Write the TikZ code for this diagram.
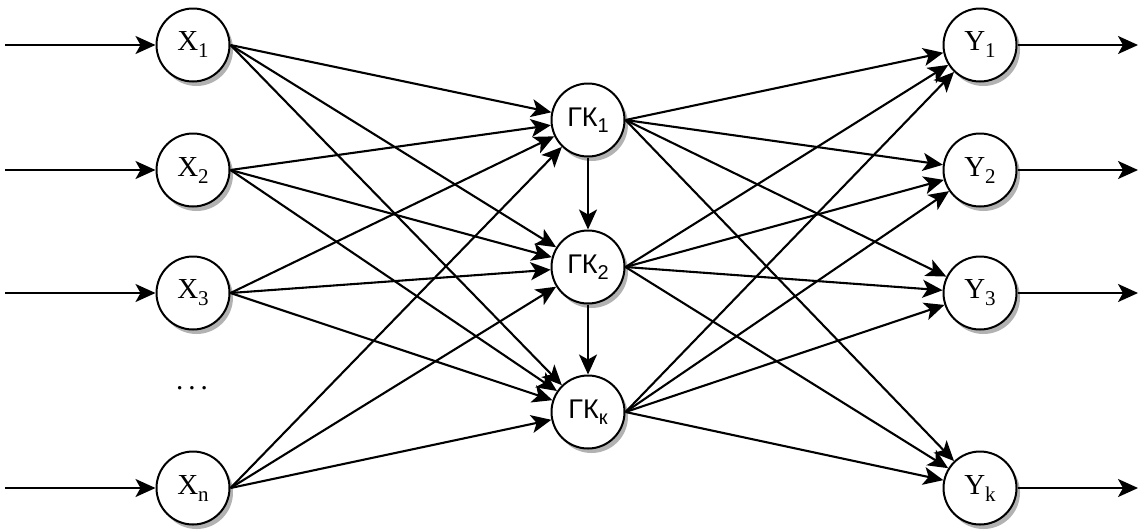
\documentclass[tikz,border=0pt]{standalone}
\usepackage{fontspec}
\setmainfont{Liberation Serif}
\newfontfamily\arialf{Liberation Sans}
\usetikzlibrary{arrows.meta,shadows}
\newcommand\lsub[1]{\raisebox{-7pt}{\fontsize{21}{21}\selectfont #1}}
\newcommand\gsub[1]{\raisebox{-6pt}{\fontsize{20}{20}\selectfont #1}}
\tikzset{
  neuron/.style={circle, draw, line width=2pt, minimum size=73pt, inner sep=0pt, fill=white,
    drop shadow={shadow xshift=3.5pt, shadow yshift=-4.5pt, fill=black, opacity=0.3},
    font=\fontsize{29}{32}\selectfont},
  gk/.style={neuron, font=\arialf\fontsize{27}{30}\selectfont},
  arr/.style={line width=2.1pt, -{Stealth[length=20pt,width=18pt,inset=5pt]}},
}
\begin{document}
\begin{tikzpicture}[x=1pt,y=-1pt]
\useasboundingbox (0,0) rectangle (1139,531);
% input column
\node[neuron] (x1) at (193,45) {X\lsub{1}};
\node[neuron] (x2) at (193,170) {X\lsub{2}};
\node[neuron] (x3) at (193,293) {X\lsub{3}};
\node[font=\fontsize{29}{32}\selectfont] (dots) at (192,388) {.\hspace{5pt}.\hspace{5pt}.};
\node[neuron] (xn) at (193,488) {X\lsub{n}};
% hidden column
\node[gk] (g1) at (588,120) {ГК\gsub{1}};
\node[gk] (g2) at (588,267) {ГК\gsub{2}};
\node[gk] (gk) at (588,412) {ГК\gsub{к}};
% output column
\node[neuron] (y1) at (980,45) {Y\lsub{1}};
\node[neuron] (y2) at (980,170) {Y\lsub{2}};
\node[neuron] (y3) at (980,293) {Y\lsub{3}};
\node[neuron] (yk) at (980,488) {Y\lsub{k}};
% free ends
\coordinate (i1) at (5,45);
\coordinate (i2) at (5,170);
\coordinate (i3) at (5,293);
\coordinate (in) at (5,488);
\coordinate (o1) at (1138,45);
\coordinate (o2) at (1138,170);
\coordinate (o3) at (1138,293);
\coordinate (ok) at (1138,488);
% inputs
\foreach \a/\b in {i1/x1,i2/x2,i3/x3,in/xn}
  \draw[arr] (\a) -- (\b.west);
% X -> GK
\foreach \a in {x1,x2,x3,xn}
  \foreach \b in {g1,g2,gk}
    \draw[arr] (\a.east) -- (\b);
% GK -> Y
\foreach \a in {g1,g2,gk}
  \foreach \b in {y1,y2,y3,yk}
    \draw[arr] (\a.east) -- (\b);
% vertical
\draw[arr] (g1.south) -- (g2.north);
\draw[arr] (g2.south) -- (gk.north);
% outputs
\foreach \a/\b in {y1/o1,y2/o2,y3/o3,yk/ok}
  \draw[arr] (\a.east) -- (\b);
\end{tikzpicture}
\end{document}
